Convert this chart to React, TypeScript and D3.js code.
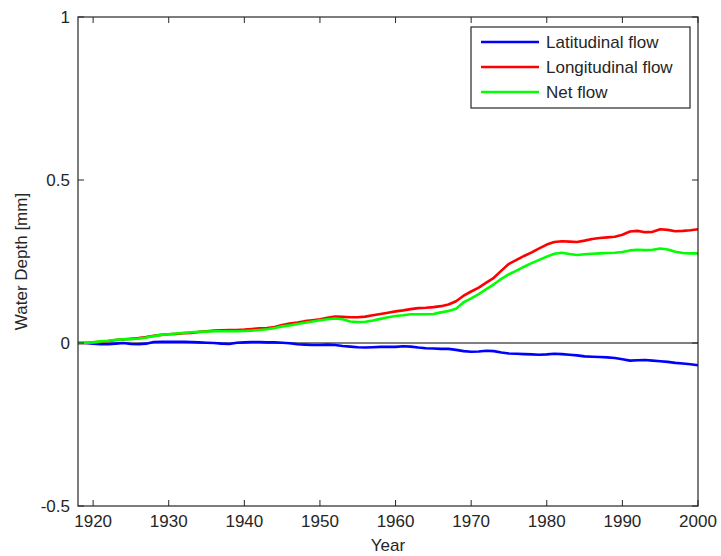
import React, { useRef, useEffect } from "react";
import * as d3 from "d3";

const startYear = 1918;

const latitudinal = [
  0.0, 0.0, -0.002, -0.004, -0.004, -0.002, 0.0, -0.003, -0.004, -0.002,
  0.003, 0.004, 0.004, 0.004, 0.004, 0.003, 0.002, 0.001, 0.0, -0.002,
  -0.003, 0.001, 0.002, 0.003, 0.003, 0.002, 0.002, 0.001, -0.001, -0.004,
  -0.005, -0.006, -0.006, -0.005, -0.006, -0.009, -0.011, -0.013, -0.014, -0.013,
  -0.012, -0.012, -0.012, -0.01, -0.011, -0.014, -0.016, -0.017, -0.018, -0.018,
  -0.021, -0.025, -0.027, -0.026, -0.024, -0.025, -0.029, -0.032, -0.033, -0.034,
  -0.035, -0.036, -0.035, -0.033, -0.034, -0.036, -0.038, -0.041, -0.042, -0.043,
  -0.044, -0.046, -0.05, -0.054, -0.053, -0.052, -0.054, -0.056, -0.058, -0.061,
  -0.063, -0.065, -0.068,
];

const longitudinal = [
  0.0, 0.0, 0.002, 0.004, 0.006, 0.009, 0.011, 0.013, 0.015, 0.018,
  0.022, 0.025, 0.027, 0.028, 0.03, 0.031, 0.034, 0.036, 0.038, 0.039,
  0.04, 0.04, 0.041, 0.043, 0.045, 0.046, 0.049, 0.055, 0.06, 0.063,
  0.067, 0.07, 0.073, 0.077, 0.081, 0.08, 0.079, 0.079, 0.081, 0.085,
  0.089, 0.093, 0.097, 0.1, 0.104, 0.107, 0.108, 0.11, 0.113, 0.118,
  0.128, 0.145, 0.158, 0.17, 0.185, 0.2, 0.222, 0.243, 0.255, 0.267,
  0.278, 0.29, 0.302, 0.31, 0.312, 0.311, 0.31, 0.314, 0.319, 0.322,
  0.324, 0.326, 0.332, 0.342, 0.344, 0.34, 0.341, 0.349, 0.347, 0.343,
  0.344, 0.346, 0.349,
];

const net = [
  0.0, 0.001, 0.002, 0.005, 0.007, 0.01, 0.011, 0.012, 0.014, 0.017,
  0.021, 0.025, 0.027, 0.029, 0.031, 0.033, 0.034, 0.035, 0.036, 0.036,
  0.036, 0.036, 0.037, 0.038, 0.04, 0.042, 0.046, 0.051, 0.054, 0.058,
  0.062, 0.066, 0.07, 0.073, 0.075, 0.073, 0.066, 0.064, 0.065, 0.069,
  0.074, 0.079, 0.083, 0.085, 0.088, 0.088, 0.088, 0.089, 0.094, 0.098,
  0.105, 0.125, 0.137, 0.15, 0.165, 0.18, 0.197, 0.211, 0.222, 0.234,
  0.245, 0.255, 0.265, 0.274, 0.277, 0.273, 0.27, 0.272, 0.274, 0.275,
  0.276, 0.277, 0.279, 0.284, 0.286, 0.285, 0.286, 0.29, 0.287, 0.28,
  0.276, 0.275, 0.275,
];

const seriesNames = ["Latitudinal flow", "Longitudinal flow", "Net flow"];
const seriesColors = ["#0000ff", "#ff0000", "#00ff00"];
const xTicks = [1920, 1930, 1940, 1950, 1960, 1970, 1980, 1990, 2000];
const yTicks = [-0.5, 0, 0.5, 1];

const App = () => {
  const chartRef = useRef<HTMLDivElement>(null);

  useEffect(() => {
    const container = d3.select(chartRef.current);
    container.select("svg").remove();

    const W = 721;
    const H = 556;
    const margin = { top: 17, right: 23, bottom: 50, left: 78 };
    const width = W - margin.left - margin.right;
    const height = H - margin.top - margin.bottom;
    const font = "Liberation Sans, Arial, sans-serif";
    const ink = "#262626";

    const xScale = d3.scaleLinear().domain([1918, 2000]).range([0, width]);
    const yScale = d3.scaleLinear().domain([-0.5, 1]).range([height, 0]);

    const svg = container
      .append("svg")
      .attr("width", W)
      .attr("height", H)
      .style("position", "absolute")
      .style("left", "0px")
      .style("top", "0px")
      .style("background", "#fff");

    const g = svg.append("g").attr("transform", `translate(${margin.left},${margin.top})`);

    // zero reference line
    g.append("line")
      .attr("x1", 0)
      .attr("x2", width)
      .attr("y1", yScale(0))
      .attr("y2", yScale(0))
      .attr("stroke", "#555")
      .attr("stroke-width", 1.5);

    const data = [latitudinal, longitudinal, net];
    const line = d3
      .line<number>()
      .x((_, i) => xScale(startYear + i))
      .y((d) => yScale(d));

    data.forEach((vals, k) => {
      g.append("path")
        .datum(vals)
        .attr("d", line)
        .attr("fill", "none")
        .attr("stroke", seriesColors[k])
        .attr("stroke-width", 2.6)
        .attr("stroke-linejoin", "round");
    });

    // box with inward ticks on every side
    g.append("rect")
      .attr("width", width)
      .attr("height", height)
      .attr("fill", "none")
      .attr("stroke", ink)
      .attr("stroke-width", 1.2);

    const tl = 6;
    xTicks.forEach((t) => {
      const x = xScale(t);
      g.append("line").attr("x1", x).attr("x2", x).attr("y1", height).attr("y2", height - tl).attr("stroke", ink);
      g.append("line").attr("x1", x).attr("x2", x).attr("y1", 0).attr("y2", tl).attr("stroke", ink);
      g.append("text")
        .attr("x", x)
        .attr("y", height + 21)
        .attr("text-anchor", "middle")
        .style("font-family", font)
        .style("font-size", "17px")
        .attr("fill", ink)
        .text(t);
    });

    yTicks.forEach((t) => {
      const y = yScale(t);
      g.append("line").attr("x1", 0).attr("x2", tl).attr("y1", y).attr("y2", y).attr("stroke", ink);
      g.append("line").attr("x1", width).attr("x2", width - tl).attr("y1", y).attr("y2", y).attr("stroke", ink);
      g.append("text")
        .attr("x", -8)
        .attr("y", y + 6)
        .attr("text-anchor", "end")
        .style("font-family", font)
        .style("font-size", "17px")
        .attr("fill", ink)
        .text(t === 0 ? "0" : String(t).replace("-", "-"));
    });

    g.append("text")
      .attr("x", width / 2)
      .attr("y", height + 45)
      .attr("text-anchor", "middle")
      .style("font-family", font)
      .style("font-size", "17px")
      .attr("fill", ink)
      .text("Year");

    g.append("text")
      .attr("transform", `translate(${-51},${height / 2}) rotate(-90)`)
      .attr("text-anchor", "middle")
      .style("font-family", font)
      .style("font-size", "17px")
      .attr("fill", ink)
      .text("Water Depth [mm]");

    // legend
    const lg = g.append("g").attr("transform", `translate(${471 - margin.left},${27 - margin.top})`);
    lg.append("rect")
      .attr("width", 219)
      .attr("height", 81)
      .attr("fill", "#fff")
      .attr("stroke", ink)
      .attr("stroke-width", 1.2);

    seriesNames.forEach((name, i) => {
      const y = 15 + i * 25;
      lg.append("line")
        .attr("x1", 10)
        .attr("x2", 68)
        .attr("y1", y)
        .attr("y2", y)
        .attr("stroke", seriesColors[i])
        .attr("stroke-width", 2.6);
      lg.append("text")
        .attr("x", 75)
        .attr("y", y + 6)
        .style("font-family", font)
        .style("font-size", "17px")
        .attr("fill", ink)
        .text(name);
    });
  }, []);

  return <div ref={chartRef}></div>;
};

export default App;
